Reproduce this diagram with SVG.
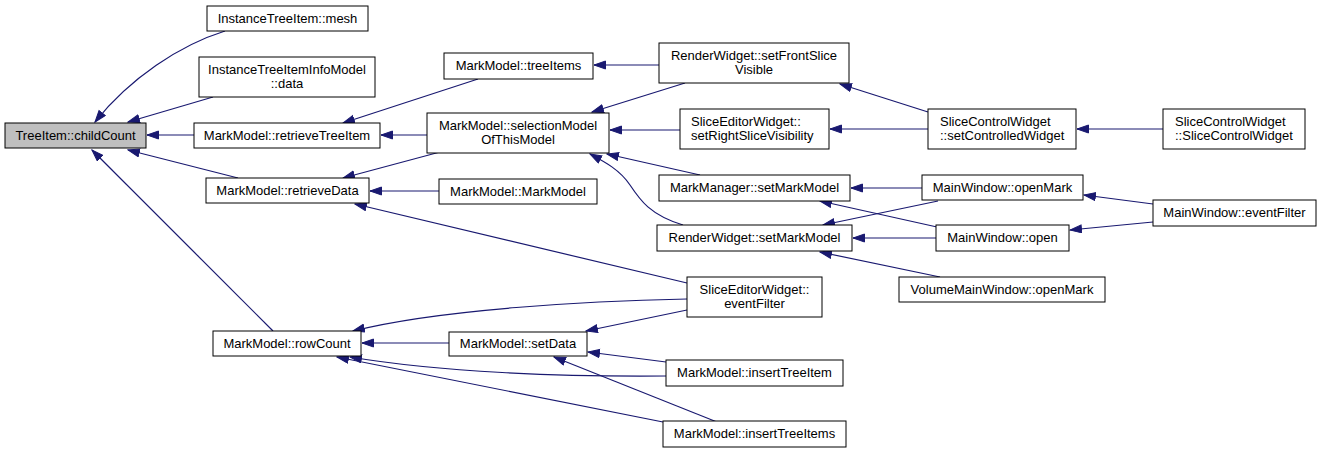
<svg xmlns="http://www.w3.org/2000/svg" width="1321" height="453" viewBox="0 0 1321 453">
<defs>
<marker id="ah" markerUnits="userSpaceOnUse" markerWidth="13" markerHeight="10" refX="12" refY="4.5" orient="auto">
<path d="M0.5,0.5 L12,4.5 L0.5,8.5 z" fill="#191970" stroke="#191970" stroke-width="1"/>
</marker>
<style>
.n rect{fill:#fff;stroke:#000;stroke-width:1}
.n text{font-family:"Liberation Sans",Arial,sans-serif;font-size:13px;fill:#000;text-anchor:middle}
.n text.l{text-anchor:start}
#edges path{fill:none;stroke:#191970;stroke-width:1.2;marker-end:url(#ah)}
</style>
</defs>
<rect width="1321" height="453" fill="#fff"/>
<g id="edges">
<path d="M225,31 C180,45 130,78 95,122"/>
<path d="M213,97 L128,122"/>
<path d="M194,135 L147,135"/>
<path d="M238,178 L128,150"/>
<path d="M273,331 L92,150"/>
<path d="M427,135 L381,135"/>
<path d="M478,79 L343,123"/>
<path d="M440,152 L343,178"/>
<path d="M439,191 L370,191"/>
<path d="M687,283 L355,204"/>
<path d="M659,65 L594,65"/>
<path d="M685,83 L592,112"/>
<path d="M680,130 L610,130"/>
<path d="M700,175 L607,154"/>
<path d="M683,225 C650,215 640,200 630,185 C620,170 605,162 590,154"/>
<path d="M928,112 L840,84"/>
<path d="M928,129 L830,129"/>
<path d="M1163,129 L1077,129"/>
<path d="M922,188 L851,188"/>
<path d="M938,201 L823,225"/>
<path d="M937,227 L820,201"/>
<path d="M936,238 L853,238"/>
<path d="M1153,204 L1084,195"/>
<path d="M1153,222 L1070,230"/>
<path d="M940,277 L820,252"/>
<path d="M687,299 C590,301 440,309 353,331"/>
<path d="M449,343 L362,343"/>
<path d="M687,310 L586,331"/>
<path d="M666,362 L588,352"/>
<path d="M667,376 C560,377 440,372 350,357"/>
<path d="M663,422 L337,357"/>
<path d="M717,422 L554,357"/>
</g>
<g id="n1" class="n"><rect x="5" y="123" width="141" height="25" style="fill:#bfbfbf"/><text x="75.5" y="140">TreeItem::childCount</text></g>
<g id="n2" class="n"><rect x="207" y="6" width="161" height="25"/><text x="287.5" y="23">InstanceTreeItem::mesh</text></g>
<g id="n3" class="n"><rect x="199" y="57" width="176" height="40"/><text x="287" y="74">InstanceTreeItemInfoModel</text><text x="287" y="88">::data</text></g>
<g id="n4" class="n"><rect x="194" y="123" width="186" height="25"/><text x="287" y="140">MarkModel::retrieveTreeItem</text></g>
<g id="n5" class="n"><rect x="206" y="178" width="163" height="25"/><text x="287.5" y="195">MarkModel::retrieveData</text></g>
<g id="n6" class="n"><rect x="213" y="331" width="148" height="25"/><text x="287" y="348">MarkModel::rowCount</text></g>
<g id="n7" class="n"><rect x="444" y="53" width="149" height="26"/><text x="518.5" y="70">MarkModel::treeItems</text></g>
<g id="n8" class="n"><rect x="427" y="113" width="182" height="40"/><text x="518" y="130">MarkModel::selectionModel</text><text x="518" y="144">OfThisModel</text></g>
<g id="n9" class="n"><rect x="439" y="179" width="158" height="25"/><text x="518" y="196">MarkModel::MarkModel</text></g>
<g id="n10" class="n"><rect x="659" y="43" width="190" height="40"/><text x="754" y="60">RenderWidget::setFrontSlice</text><text x="754" y="74">Visible</text></g>
<g id="n11" class="n"><rect x="680" y="109" width="149" height="40"/><text class="l" x="691" y="126">SliceEditorWidget::</text><text class="l" x="691" y="140">setRightSliceVisibility</text></g>
<g id="n12" class="n"><rect x="659" y="175" width="191" height="26"/><text x="754.5" y="192">MarkManager::setMarkModel</text></g>
<g id="n13" class="n"><rect x="657" y="225" width="195" height="26"/><text x="754.5" y="242">RenderWidget::setMarkModel</text></g>
<g id="n14" class="n"><rect x="687" y="277" width="135" height="40"/><text x="754.5" y="294">SliceEditorWidget::</text><text x="754.5" y="308">eventFilter</text></g>
<g id="n15" class="n"><rect x="449" y="332" width="138" height="24"/><text x="518" y="348">MarkModel::setData</text></g>
<g id="n16" class="n"><rect x="666" y="360" width="177" height="26"/><text x="754.5" y="377">MarkModel::insertTreeItem</text></g>
<g id="n17" class="n"><rect x="663" y="421" width="183" height="26"/><text x="754.5" y="438">MarkModel::insertTreeItems</text></g>
<g id="n18" class="n"><rect x="928" y="109" width="148" height="40"/><text class="l" x="940" y="126">SliceControlWidget</text><text class="l" x="940" y="140">::setControlledWidget</text></g>
<g id="n19" class="n"><rect x="1163" y="109" width="142" height="40"/><text class="l" x="1175" y="126">SliceControlWidget</text><text class="l" x="1175" y="140">::SliceControlWidget</text></g>
<g id="n20" class="n"><rect x="922" y="175" width="161" height="25"/><text x="1002.5" y="192">MainWindow::openMark</text></g>
<g id="n21" class="n"><rect x="936" y="225" width="133" height="26"/><text x="1002.5" y="242">MainWindow::open</text></g>
<g id="n22" class="n"><rect x="1153" y="200" width="163" height="26"/><text x="1234.5" y="217">MainWindow::eventFilter</text></g>
<g id="n23" class="n"><rect x="899" y="277" width="206" height="25"/><text x="1002" y="294">VolumeMainWindow::openMark</text></g>
</svg>
